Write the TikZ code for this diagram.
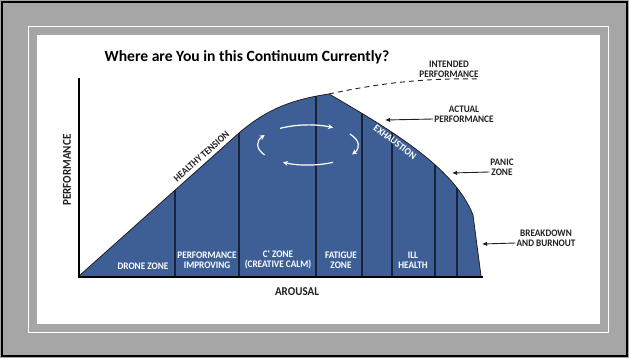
\documentclass[tikz,border=0pt]{standalone}
\usepackage{fontspec}
\setmainfont{Carlito}
\newfontfamily\lblfont[FakeStretch=0.92]{Carlito}
\usetikzlibrary{arrows.meta}
\definecolor{zoneblue}{RGB}{62,95,150}
\definecolor{framegray}{RGB}{166,166,166}
\definecolor{ink}{RGB}{35,31,32}
\definecolor{divider}{RGB}{25,35,55}

\begin{document}
\begin{tikzpicture}[x=1pt,y=-1pt,
  lbl/.style={font=\lblfont\bfseries\fontsize{10}{10}\selectfont, text=ink, align=center, inner sep=1pt},
  axislbl/.style={lbl, font=\lblfont\bfseries\fontsize{12}{12}\selectfont},
  zonelbl/.style={lbl, text=white},
  pointer/.style={-{Latex[length=5pt,width=4.5pt]}, line width=0.9pt, draw=ink},
  cyc/.style={-{Stealth[length=5pt,width=5pt]}, draw=white, line width=1.2pt},
  dividerline/.style={draw=divider, line width=1.3pt},
]
\useasboundingbox (0,0) rectangle (629,358);

% frame: grey mat, black edge, thin white rule, white panel
\fill[framegray] (0,0) rectangle (629,358);
\draw[black, line width=2pt] (2,2) rectangle (627,356);
\draw[white, line width=1pt] (28,27) rectangle (608,332);
\fill[white] (37,35) rectangle (600,324);

% performance curve area
\fill[zoneblue] (79,276) -- (239,133) .. controls (268,108) and (295,99) .. (329,94)
  .. controls (400,135) and (455,170) .. (473,215) -- (481,276) -- cycle;

% zone dividers, clipped to the area
\begin{scope}
  \clip (79,276) -- (239,133) .. controls (268,108) and (295,99) .. (329,94)
    .. controls (400,135) and (455,170) .. (473,215) -- (481,276) -- cycle;
  \foreach \xx in {175,239,316,362,392,435,457}
    \draw[dividerline] (\xx,80) -- (\xx,280);
\end{scope}

% curve outline
\draw[ink, line width=0.8pt] (79,276) -- (239,133) .. controls (268,108) and (295,99) .. (329,94)
  .. controls (400,135) and (455,170) .. (473,215) -- (481,276);

% intended performance
\draw[ink, line width=0.9pt, dash pattern=on 5pt off 4pt] (329,94) .. controls (385,82) and (430,78) .. (479,79);

% axes
\coordinate (origin) at (79,277);
\coordinate (ytop) at (79,78);
\coordinate (xend) at (483,277);
\draw[black, line width=2.2pt] (ytop) -- (origin) -- (xend);

% circulating arrows in the calm zone
\draw[cyc] (308,145) ++(-124:50 and 20) arc[start angle=-124, end angle=-60, x radius=50, y radius=20];
\draw[cyc] (308,145) ++(-33:50 and 20) arc[start angle=-33, end angle=28, x radius=50, y radius=20];
\draw[cyc] (308,145) ++(60:50 and 20) arc[start angle=60, end angle=120, x radius=50, y radius=20];
\draw[cyc] (308,145) ++(150:50 and 20) arc[start angle=150, end angle=210, x radius=50, y radius=20];

% title
\node[font=\bfseries\fontsize{15.6}{17}\selectfont, text=black] (title) at (247,57) {Where are You in this Continuum Currently?};

% axis labels
\node[axislbl, rotate=90] (perf) at (67,170) {PERFORMANCE};
\node[axislbl] (arousal) at (297,292) {AROUSAL};

% labels along the curve
\node[lbl, rotate=41.7] (healthy) at (201.5,156.5) {HEALTHY TENSION};
\node[zonelbl, rotate=-37] (exhaustion) at (395,142) {EXHAUSTION};

% zone labels
\node[zonelbl] (drone) at (143,266) {DRONE ZONE};
\node[zonelbl] (improving) at (207,260) {PERFORMANCE\\IMPROVING};
\node[zonelbl] (czone) at (278,260) {C' ZONE\\(CREATIVE CALM)};
\node[zonelbl] (fatigue) at (341,260) {FATIGUE\\ZONE};
\node[zonelbl] (ill) at (413,260) {ILL\\HEALTH};

% right-hand labels with pointers
\node[lbl] (intended) at (449,69) {INTENDED\\PERFORMANCE};
\node[lbl] (actual) at (464,114) {ACTUAL\\PERFORMANCE};
\node[lbl] (panic) at (502,167) {PANIC\\ZONE};
\node[lbl] (breakdown) at (546,238) {BREAKDOWN\\AND BURNOUT};

\coordinate (actualtip) at (385,120);
\coordinate (panictip) at (452,173);
\coordinate (breaktip) at (482,244);
\draw[pointer] ([yshift=-5pt]actual.west) -- (actualtip);
\draw[pointer] ([yshift=-5pt]panic.west) -- (panictip);
\draw[pointer] ([yshift=-5pt]breakdown.west) -- (breaktip);
\end{tikzpicture}
\end{document}
